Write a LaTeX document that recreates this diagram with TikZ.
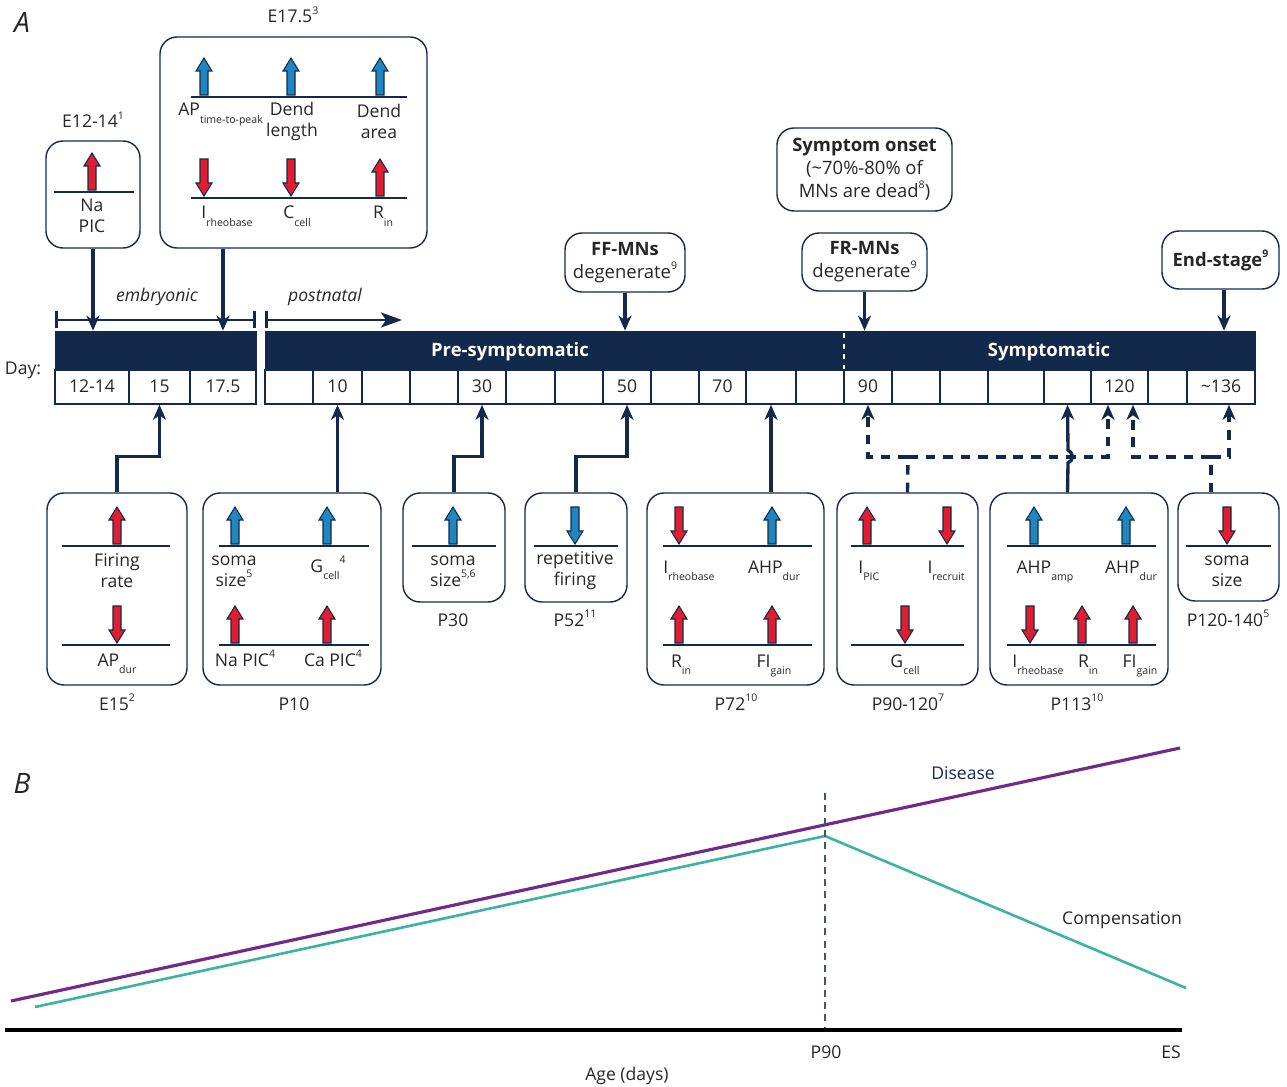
\documentclass[tikz,border=0pt]{standalone}
\usepackage{fontspec}
\setmainfont{Open Sans}
\usepackage{tikz}
\usetikzlibrary{positioning}
\usetikzlibrary{arrows.meta}
\usetikzlibrary{fit}
\definecolor{navy}{HTML}{13294B}
\definecolor{upred}{HTML}{E31D30}
\definecolor{upblue}{HTML}{1F86C2}
\definecolor{dispurple}{HTML}{702A87}
\definecolor{compteal}{HTML}{3CB39E}
\definecolor{txt}{HTML}{262626}
\newcommand{\sbs}[1]{\raisebox{-0.8ex}{\fontsize{6}{6}\selectfont #1}}
\newcommand{\sps}[1]{\raisebox{0.9ex}{\fontsize{6}{6}\selectfont #1}}
% block arrows: x, y of base (up) or top (down), fill colour
\newcommand{\arrup}[3]{\draw[blockarr, fill=#3] ({#1-4},#2) -- ({#1-4},{#2-24}) -- ({#1-8},{#2-24}) -- (#1,{#2-37}) -- ({#1+8},{#2-24}) -- ({#1+4},{#2-24}) -- ({#1+4},#2) -- cycle;}
\newcommand{\arrdn}[3]{\draw[blockarr, fill=#3] ({#1-4},#2) -- ({#1-4},{#2+24}) -- ({#1-8},{#2+24}) -- (#1,{#2+37}) -- ({#1+8},{#2+24}) -- ({#1+4},{#2+24}) -- ({#1+4},#2) -- cycle;}
\tikzset{
  box/.style={draw=navy, line width=0.8pt, rounded corners=0.34cm, inner sep=0pt},
  daybar/.style={draw=navy, fill=navy, inner sep=0pt},
  cell/.style={draw=navy, line width=0.9pt, fill=white, inner sep=0pt},
  bartext/.style={text=white, font=\fontsize{10.5}{12}\selectfont\bfseries},
  rule/.style={navy, line width=1.4pt},
  conn/.style={navy, line width=1.9pt, -{Stealth[length=0.3cm, width=0.26cm, inset=0.09cm]}},
  dconn/.style={conn, dash pattern=on 5.5pt off 4.5pt},
  blockarr/.style={draw=navy, line width=0.6pt, line join=miter},
  brk/.style={navy, line width=1.7pt},
  hdr/.style={align=center, font=\fontsize{10.5}{13}\selectfont},
  panel/.style={font=\fontsize{16}{16}\selectfont\itshape},
}
\begin{document}
\begin{tikzpicture}[x=0.02cm, y=-0.02cm, every node/.style={font=\fontsize{10}{12}\selectfont, text=txt}]
\useasboundingbox (0,0) rectangle (1287,1087);
\node[panel] (lblA) at (22,22) {A};
% stages
\draw[brk, {Bar[width=0.34cm]}-{Bar[width=0.34cm]}] (55,320) -- (256,320);
\draw[brk, {Bar[width=0.34cm]}-{Stealth[length=0.42cm, width=0.3cm, inset=0.1cm]}] (265,320) -- (402,320);
\node[font=\fontsize{10}{12}\selectfont\itshape] (embr) at (157,297) {embryonic};
\node[font=\fontsize{10}{12}\selectfont\itshape] (postn) at (325,297) {postnatal};
% time line
\node[daybar, fit={(55,331) (256,370)}] (ebar) {};
\node[daybar, fit={(265,331) (1255,370)}] (pbar) {};
\draw[white, dashed, line width=0.8pt] (844,333) -- (844,369);
\node[bartext] (presym) at (510,352) {Pre-symptomatic};
\node[bartext] (sym) at (1049,352) {Symptomatic};
\node[anchor=base] (day) at (23,375) {Day:};
\foreach \a/\b/\t [count=\i] in {55/129/12-14, 129/190/15, 190/256/17.5,
  265/313/{}, 313/362/10, 362/410/{}, 410/458/{}, 458/506/30, 506/555/{},
  555/603/{}, 603/651/50, 651/699/{}, 699/746/70, 746/796/{}, 796/844/{},
  844/892/90, 892/940/{}, 940/988/{}, 988/1044/{}, 1044/1091/{},
  1091/1148/120, 1148/1187/{}, 1187/1255/\textasciitilde136}
  {\node[cell, fit={(\a,370) (\b,404)}] (cell\i) {};
   \node[anchor=base] (num\i) at ({(\a+\b)/2},393) {\t};}
% E12-14
\node[box, fit={(46,141) (140,248)}] (e12box) {};
\node[anchor=base] (e12lbl) at (93,128) {E12-14\sps{1}};
\arrup{92}{190}{upred}
\draw[rule] (54,192) -- (134,192);
\node[align=center] (e12txt) at (92,216) {Na\\PIC};
\draw[conn] (e12box.south) -- (e12box.south |- ebar.north);
% E17.5
\node[box, fit={(160,37) (427,248)}] (e17box) {};
\node[anchor=base] (e17lbl) at (293,23) {E17.5\sps{3}};
\arrup{204}{95}{upblue}
\arrup{291}{95}{upblue}
\arrup{380}{95}{upblue}
\draw[rule] (191,97) -- (407,97);
\node[anchor=base west, inner sep=0pt] (aptime) at (178,116) {AP\sbs{time-to-peak}};
\node[align=center] (dlen) at (292,121) {Dend\\length};
\node[align=center] (darea) at (379,121) {Dend\\area};
\arrdn{204}{159}{upred}
\arrdn{291}{159}{upred}
\arrup{380}{196}{upred}
\draw[rule] (191,198) -- (407,198);
\node[anchor=base west, inner sep=0pt] (irh1) at (201,219) {I\sbs{rheobase}};
\node[anchor=base] (ccell) at (297,219) {C\sbs{cell}};
\node[anchor=base] (rin1) at (383,219) {R\sbs{in}};
\draw[conn] (e17box.south -| cell3) -- (cell3 |- ebar.north);
% events above
\node[box, fit={(565,233) (685,292)}] (ffbox) {};
\node[hdr] (fftxt) at (ffbox) {\textbf{FF-MNs}\\degenerate\sps{9}};
\node[box, fit={(777,128) (952,211)}] (onset) {};
\node[hdr] (onsettxt) at (onset) {\textbf{Symptom onset}\\(\textasciitilde70\%-80\% of\\MNs are dead\sps{8})};
\node[box, fit={(802,233) (927,291)}] (frbox) {};
\node[hdr] (frtxt) at (frbox) {\textbf{FR-MNs}\\degenerate\sps{9}};
\node[box, fit={(1162,231) (1279,289)}] (endbox) {};
\node[hdr] (endtxt) at (endbox) {\textbf{End-stage\sps{9}}};
\draw[conn] (ffbox.south) -- (ffbox.south |- pbar.north);
\draw[conn] (frbox.south) -- (frbox.south |- pbar.north);
\draw[conn] ([xshift=0.07cm]endbox.south) -- ([xshift=0.07cm]endbox.south |- pbar.north);
% E15
\node[box, fit={(47,493) (187,685)}] (e15box) {};
\arrup{117}{544}{upred}
\draw[rule] (62,546) -- (170,546);
\node[align=center] (fire) at (117,571) {Firing\\rate};
\arrdn{117}{606}{upred}
\draw[rule] (62,645) -- (170,645);
\node[anchor=base] (apdur) at (117,666) {AP\sbs{dur}};
\node[anchor=base] (e15lbl) at (117,710) {E15\sps{2}};
\draw[conn] (e15box.north) -- ++(0,-36) -| (cell2.south);
% P10
\node[box, fit={(203,493) (381,685)}] (p10box) {};
\arrup{235}{544}{upblue}
\arrup{327}{544}{upblue}
\draw[rule] (219,546) -- (369,546);
\node[align=center] (soma1) at (234,571) {soma\\size\sps{5}};
\node[anchor=base] (gcell1) at (328,572) {G\sbs{cell}\sps{4}};
\arrup{235}{643}{upred}
\arrup{327}{643}{upred}
\draw[rule] (219,645) -- (369,645);
\node[anchor=base] (napic) at (245,666) {Na PIC\sps{4}};
\node[anchor=base] (capic) at (333,666) {Ca PIC\sps{4}};
\node[anchor=base] (p10lbl) at (294,710) {P10};
\draw[conn] (p10box.north -| cell5) -- (cell5.south);
% P30
\node[box, fit={(403,493) (505,602)}] (p30box) {};
\arrup{453}{544}{upblue}
\draw[rule] (412,546) -- (496,546);
\node[align=center] (soma2) at (453,571) {soma\\size\sps{5,6}};
\node[anchor=base] (p30lbl) at (453,626) {P30};
\draw[conn] (p30box.north) -- ++(0,-36) -| (cell8.south);
% P52
\node[box, fit={(525,493) (627,602)}] (p52box) {};
\arrdn{575}{507}{upblue}
\draw[rule] (534,546) -- (618,546);
\node[align=center] (repf) at (575,571) {repetitive\\firing};
\node[anchor=base] (p52lbl) at (575,626) {P52\sps{11}};
\draw[conn] (p52box.north) -- ++(0,-36) -| (cell11.south);
% P72
\node[box, fit={(647,493) (824,685)}] (p72box) {};
\arrdn{679}{507}{upred}
\arrup{772}{544}{upblue}
\draw[rule] (663,546) -- (812,546);
\node[anchor=base west, inner sep=0pt] (irh2) at (663,573) {I\sbs{rheobase}};
\node[anchor=base] (ahp1) at (774,573) {AHP\sbs{dur}};
\arrup{679}{643}{upred}
\arrup{772}{643}{upred}
\draw[rule] (663,645) -- (812,645);
\node[anchor=base] (rin2) at (681,667) {R\sbs{in}};
\node[anchor=base] (fig1) at (774,667) {FI\sbs{gain}};
\node[anchor=base] (p72lbl) at (736,710) {P72\sps{10}};
\draw[conn] (p72box.north -| cell14) -- (cell14.south);
% P90-120
\node[box, fit={(837,493) (978,685)}] (p90box) {};
\arrup{867}{544}{upred}
\arrdn{947}{507}{upred}
\draw[rule] (851,546) -- (964,546);
\node[anchor=base west, inner sep=0pt] (ipic) at (858,573) {I\sbs{PIC}};
\node[anchor=base east, inner sep=0pt] (irec) at (965,573) {I\sbs{recruit}};
\arrdn{905}{606}{upred}
\draw[rule] (851,645) -- (964,645);
\node[anchor=base] (gcell2) at (905,667) {G\sbs{cell}};
\node[anchor=base] (p90lbl) at (908,710) {P90-120\sps{7}};
\coordinate (jl) at (908,457);
\draw[dconn, -] (p90box.north) -- (jl);
\draw[dconn] (jl) -| (cell16.south);
\draw[dconn] (jl) -| ([xshift=-0.23cm]cell21.south);
% P113
\node[box, fit={(990,493) (1168,685)}] (p113box) {};
\arrup{1034}{544}{upblue}
\arrup{1126}{544}{upblue}
\draw[rule] (1007,546) -- (1156,546);
\node[anchor=base] (ahp2) at (1045,573) {AHP\sbs{amp}};
\node[anchor=base] (ahp3) at (1131,573) {AHP\sbs{dur}};
\arrdn{1030}{606}{upred}
\arrup{1082}{643}{upred}
\arrup{1133}{643}{upred}
\draw[rule] (1007,645) -- (1156,645);
\node[anchor=base] (irh3) at (1038,667) {I\sbs{rheobase}};
\node[anchor=base] (rin3) at (1088,667) {R\sbs{in}};
\node[anchor=base] (fig2) at (1140,667) {FI\sbs{gain}};
\node[anchor=base] (p113lbl) at (1077,710) {P113\sps{10}};
\draw[conn] (p113box.north -| cell20) -- (1068,463) .. controls (1074,460) and (1074,454) .. (1068,450) -- (cell20.south);
% P120-140
\node[box, fit={(1178,493) (1279,601)}] (p120box) {};
\arrdn{1227}{507}{upred}
\draw[rule] (1186,546) -- (1271,546);
\node[align=center] (soma3) at (1227,571) {soma\\size};
\node[anchor=base] (p120lbl) at (1228,626) {P120-140\sps{5}};
\coordinate (jr) at (1211,457);
\draw[dconn, -] (jr |- p120box.north) -- (jr);
\draw[dconn] (jr) -| ([xshift=0.27cm]cell21.south);
\draw[dconn] (jr) -| ([xshift=0.16cm]cell23.south);
% panel B
\node[panel] (lblB) at (22,783) {B};
\draw[dispurple, line width=1.8pt] (11,1001) -- (1180,748);
\draw[compteal, line width=1.5pt] (35,1007) -- (825,836) -- (1186,988);
\draw[navy!80, dash pattern=on 4pt off 3pt, line width=0.6pt] (825,793) -- (825,1030);
\draw[black, line width=2pt] (5,1030) -- (1182,1030);
\node[text=navy] (dis) at (963,773) {Disease};
\node (comp) at (1122,920) {Compensation};
\node (p90) at (826,1052) {P90};
\node (es) at (1171,1052) {ES};
\node (age) at (627,1076) {Age (days)};
\end{tikzpicture}
\end{document}
